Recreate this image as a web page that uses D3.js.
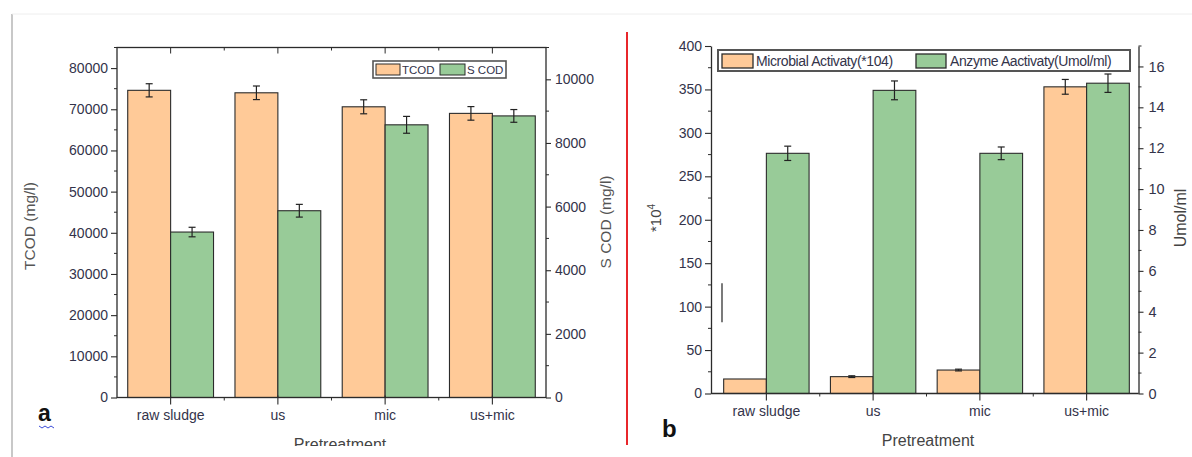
<!DOCTYPE html>
<html>
<head>
<meta charset="utf-8">
<script src="https://cdn.jsdelivr.net/npm/d3@7"></script>
<style>
  body { margin: 0; background: #fff; }
  svg { display: block; font-family: "Liberation Sans", Arial, sans-serif; }
  .tick text { fill: #33334a; }
</style>
</head>
<body>
<svg id="chart" width="1192" height="457"></svg>
<script>
  // categories and values
  const categories = ["raw sludge", "us", "mic", "us+mic"];

  const tcod = [74600, 74000, 70600, 69000];
  const tcodErr = [1600, 1650, 1700, 1650];
  const scod = [5200, 5870, 8570, 8850];
  const scodErr = [150, 200, 265, 200];

  const microbial = [16.7, 19.4, 27, 353];
  const microbialErr = [0, 1, 1, 8.5];
  const enzyme = [11.75, 14.83, 11.75, 15.18];
  const enzymeErr = [0.35, 0.46, 0.31, 0.45];

  const tcodTicks = [0, 10000, 20000, 30000, 40000, 50000, 60000, 70000, 80000];
  const scodTicks = [0, 2000, 4000, 6000, 8000, 10000];
  const microbialTicks = [0, 50, 100, 150, 200, 250, 300, 350, 400];
  const enzymeTicks = [0, 2, 4, 6, 8, 10, 12, 14, 16];

  const orange = "#ffca98";
  const green = "#98cb98";
  const ink = "#2b2b2b";
  const plain = d3.format("d");

  const svg = d3.select("#chart");

  // page frame bits (screenshot edges and the red divider)
  svg.append("line").attr("x1", 12).attr("x2", 12).attr("y1", 14).attr("y2", 457)
    .attr("stroke", "#c8c8c8").attr("stroke-width", 2);
  svg.append("line").attr("x1", 12).attr("x2", 1192).attr("y1", 14).attr("y2", 14)
    .attr("stroke", "#eeeeee").attr("stroke-width", 1);
  svg.append("line").attr("x1", 627).attr("x2", 627).attr("y1", 32).attr("y2", 445)
    .attr("stroke", "#e8262b").attr("stroke-width", 2);

  function minorAxis(g, scale, values, size, orient) {
    g.append("g").selectAll("line").data(values).join("line")
      .attr("stroke", ink).attr("stroke-width", 1)
      .attr(orient === "h" ? "y1" : "x1", d => scale(d))
      .attr(orient === "h" ? "y2" : "x2", d => scale(d))
      .attr(orient === "h" ? "x1" : "y1", 0)
      .attr(orient === "h" ? "x2" : "y2", size);
  }

  function styleAxis(g, fontSize) {
    g.selectAll(".domain").attr("stroke", ink).attr("stroke-width", 1.3);
    g.selectAll(".tick line").attr("stroke", ink).attr("stroke-width", 1.1);
    g.selectAll(".tick text").style("font-size", fontSize + "px");
  }

  function errorBars(g, xs, vals, errs, scale, cap) {
    const eb = g.append("g").attr("stroke", "#222").attr("stroke-width", 1.2);
    vals.forEach((v, i) => {
      if (!errs[i]) return;
      const x = xs[i];
      const top = scale(v + errs[i]);
      const bot = scale(v - errs[i]);
      eb.append("line").attr("x1", x).attr("x2", x).attr("y1", top).attr("y2", bot);
      eb.append("line").attr("x1", x - cap).attr("x2", x + cap).attr("y1", top).attr("y2", top);
      eb.append("line").attr("x1", x - cap).attr("x2", x + cap).attr("y1", bot).attr("y2", bot);
    });
  }

  // ---------- chart a ----------
  const aLeft = 117, aRight = 546, aTop = 47.5, aBottom = 397.5;
  const xa = d3.scaleBand().domain(categories).range([aLeft, aRight])
    .paddingInner(0.2).paddingOuter(0.1);
  const ya = d3.scaleLinear().domain([0, 85000]).range([aBottom, aTop]);
  const ya2 = d3.scaleLinear().domain([0, 11000]).range([aBottom, aTop]);
  const barA = xa.bandwidth() / 2;

  const ga = svg.append("g");

  ga.append("g").selectAll("rect").data(categories).join("rect")
    .attr("x", d => xa(d)).attr("width", barA)
    .attr("y", (d, i) => ya(tcod[i])).attr("height", (d, i) => aBottom - ya(tcod[i]))
    .attr("fill", orange).attr("stroke", ink).attr("stroke-width", 1.1);
  ga.append("g").selectAll("rect").data(categories).join("rect")
    .attr("x", d => xa(d) + barA).attr("width", barA)
    .attr("y", (d, i) => ya2(scod[i])).attr("height", (d, i) => aBottom - ya2(scod[i]))
    .attr("fill", green).attr("stroke", ink).attr("stroke-width", 1.1);

  errorBars(ga, categories.map(d => xa(d) + barA / 2), tcod, tcodErr, ya, 3.5);
  errorBars(ga, categories.map(d => xa(d) + barA * 1.5), scod, scodErr, ya2, 3.5);

  // frame
  ga.append("rect").attr("x", aLeft).attr("y", aTop)
    .attr("width", aRight - aLeft).attr("height", aBottom - aTop)
    .attr("fill", "none").attr("stroke", ink).attr("stroke-width", 1.3);

  const aLeftAxis = ga.append("g").attr("transform", `translate(${aLeft},0)`)
    .call(d3.axisLeft(ya).tickValues(tcodTicks).tickFormat(plain)
      .tickSize(6).tickPadding(3).tickSizeOuter(0));
  aLeftAxis.select(".domain").remove();
  styleAxis(aLeftAxis, 14);
  minorAxis(aLeftAxis, ya, d3.range(5000, 85001, 10000), -3, "h");

  const aRightAxis = ga.append("g").attr("transform", `translate(${aRight},0)`)
    .call(d3.axisRight(ya2).tickValues(scodTicks).tickFormat(plain)
      .tickSize(5).tickPadding(4).tickSizeOuter(0));
  aRightAxis.select(".domain").remove();
  styleAxis(aRightAxis, 14);
  minorAxis(aRightAxis, ya2, d3.range(1000, 11001, 2000), 3, "h");

  const centersA = categories.map(d => xa(d) + xa.bandwidth() / 2);
  const betweenA = centersA.slice(0, -1).map((c, i) => (c + centersA[i + 1]) / 2);

  const aBottomAxis = ga.append("g").attr("transform", `translate(0,${aBottom})`)
    .call(d3.axisBottom(xa).tickSize(7).tickPadding(6).tickSizeOuter(0));
  aBottomAxis.select(".domain").remove();
  styleAxis(aBottomAxis, 14);
  aBottomAxis.selectAll(".tick line").attr("y1", -2);
  minorAxis(aBottomAxis, d => d, betweenA, 3, "v");

  const aTopAxis = ga.append("g").attr("transform", `translate(0,${aTop})`);
  minorAxis(aTopAxis, d => d, centersA, 6, "v");
  minorAxis(aTopAxis, d => d, betweenA, 3, "v");

  ga.append("text").attr("transform", "translate(35,226) rotate(-90)")
    .attr("text-anchor", "middle").attr("fill", "#555").style("font-size", "15.5px")
    .text("TCOD (mg/l)");
  ga.append("text").attr("transform", "translate(611,222) rotate(-90)")
    .attr("text-anchor", "middle").attr("fill", "#555").style("font-size", "15.5px")
    .text("S COD (mg/l)");

  // clipped x title (panel ends before the text finishes)
  svg.append("clipPath").attr("id", "clipA").append("rect")
    .attr("x", 0).attr("y", 0).attr("width", 620).attr("height", 446);
  ga.append("text").attr("clip-path", "url(#clipA)")
    .attr("x", 340).attr("y", 450).attr("text-anchor", "middle")
    .attr("fill", "#444").style("font-size", "16px").text("Pretreatment");

  ga.append("text").attr("x", 38).attr("y", 421).attr("fill", "#111")
    .style("font-size", "23px").style("font-weight", "bold").text("a");
  ga.append("path").attr("fill", "none").attr("stroke", "#3b4bd8").attr("stroke-width", 1)
    .attr("d", d3.range(0, 6).map(k => `${k === 0 ? "M" : "L"}${39 + k * 3},${k % 2 ? 428 : 426}`).join(""));

  // legend a
  const legA = ga.append("g").attr("transform", "translate(373,61)");
  legA.append("rect").attr("width", 133).attr("height", 17)
    .attr("fill", "#fff").attr("stroke", "#555").attr("stroke-width", 1.6);
  legA.append("rect").attr("x", 3).attr("y", 3).attr("width", 24).attr("height", 11)
    .attr("fill", orange).attr("stroke", ink);
  legA.append("text").attr("x", 29).attr("y", 13).style("font-size", "11.5px")
    .attr("fill", "#33334a").text("TCOD");
  legA.append("rect").attr("x", 67).attr("y", 3).attr("width", 25).attr("height", 11)
    .attr("fill", green).attr("stroke", ink);
  legA.append("text").attr("x", 94).attr("y", 13).style("font-size", "11.5px")
    .attr("fill", "#33334a").text("S COD");

  // ---------- chart b ----------
  const bLeft = 711, bRight = 1138.5, bTop = 46, bBottom = 393.5;
  const xb = d3.scaleBand().domain(categories).range([713, 1140])
    .paddingInner(0.2).paddingOuter(0.1);
  const yb = d3.scaleLinear().domain([0, 400]).range([bBottom, bTop]);
  const yb2 = d3.scaleLinear().domain([0, 17]).range([bBottom, bTop]);
  const barB = xb.bandwidth() / 2;

  const gb = svg.append("g");

  gb.append("g").selectAll("rect").data(categories).join("rect")
    .attr("x", d => xb(d)).attr("width", barB)
    .attr("y", (d, i) => yb(microbial[i])).attr("height", (d, i) => bBottom - yb(microbial[i]))
    .attr("fill", orange).attr("stroke", ink).attr("stroke-width", 1.1);
  gb.append("g").selectAll("rect").data(categories).join("rect")
    .attr("x", d => xb(d) + barB).attr("width", barB)
    .attr("y", (d, i) => yb2(enzyme[i])).attr("height", (d, i) => bBottom - yb2(enzyme[i]))
    .attr("fill", green).attr("stroke", ink).attr("stroke-width", 1.1);

  errorBars(gb, categories.map(d => xb(d) + barB / 2), microbial, microbialErr, yb, 3.5);
  errorBars(gb, categories.map(d => xb(d) + barB * 1.5), enzyme, enzymeErr, yb2, 3.5);

  // stray mark left in the figure
  gb.append("line").attr("x1", 722).attr("x2", 722).attr("y1", yb(127)).attr("y2", yb(82))
    .attr("stroke", "#333").attr("stroke-width", 1.3);

  const bLeftAxis = gb.append("g").attr("transform", `translate(${bLeft},0)`)
    .call(d3.axisLeft(yb).tickValues(microbialTicks).tickFormat(plain)
      .tickSize(6).tickPadding(3).tickSizeOuter(0));
  styleAxis(bLeftAxis, 14);
  minorAxis(bLeftAxis, yb, d3.range(25, 400, 50), -3, "h");

  const bRightAxis = gb.append("g").attr("transform", `translate(${bRight},0)`)
    .call(d3.axisRight(yb2).tickValues(enzymeTicks).tickFormat(plain)
      .tickSize(5).tickPadding(5).tickSizeOuter(0));
  styleAxis(bRightAxis, 14.5);
  minorAxis(bRightAxis, yb2, d3.range(1, 18, 2), 3, "h");

  const centersB = categories.map(d => xb(d) + xb.bandwidth() / 2);
  const betweenB = centersB.slice(0, -1).map((c, i) => (c + centersB[i + 1]) / 2);

  const bBottomAxis = gb.append("g").attr("transform", `translate(0,${bBottom})`)
    .call(d3.axisBottom(xb).tickSize(7).tickPadding(6).tickSizeOuter(0));
  bBottomAxis.select(".domain").attr("d", `M${bLeft},0H${bRight}`);
  styleAxis(bBottomAxis, 14);
  bBottomAxis.selectAll(".tick line").attr("y1", -2);
  minorAxis(bBottomAxis, d => d, betweenB, 3, "v");

  const yTitleB = gb.append("text").attr("transform", "translate(661,218) rotate(-90)")
    .attr("text-anchor", "middle").attr("fill", "#444").style("font-size", "15px");
  yTitleB.append("tspan").text("*10");
  yTitleB.append("tspan").attr("dy", -6).style("font-size", "10px").text("4");

  gb.append("text").attr("transform", "translate(1186,218) rotate(-90)")
    .attr("text-anchor", "middle").attr("fill", "#444").style("font-size", "16px")
    .text("Umol/ml");
  gb.append("text").attr("x", 928).attr("y", 446).attr("text-anchor", "middle")
    .attr("fill", "#444").style("font-size", "16px").text("Pretreatment");
  gb.append("text").attr("x", 662).attr("y", 437).attr("fill", "#111")
    .style("font-size", "24px").style("font-weight", "bold").text("b");

  // legend b
  const legB = gb.append("g").attr("transform", "translate(718,50)");
  legB.append("rect").attr("width", 412).attr("height", 21)
    .attr("fill", "#fff").attr("stroke", "#555").attr("stroke-width", 2);
  legB.append("rect").attr("x", 4).attr("y", 4).attr("width", 31).attr("height", 14)
    .attr("fill", orange).attr("stroke", ink).attr("stroke-width", 1.3);
  legB.append("text").attr("x", 38).attr("y", 16).style("font-size", "14px")
    .style("letter-spacing", "-0.4px").attr("fill", "#33334a").text("Microbial Activaty(*104)");
  legB.append("rect").attr("x", 198).attr("y", 4).attr("width", 30).attr("height", 14)
    .attr("fill", green).attr("stroke", ink).attr("stroke-width", 1.3);
  legB.append("text").attr("x", 232).attr("y", 16).style("font-size", "14px")
    .style("letter-spacing", "-0.4px").attr("fill", "#33334a").text("Anzyme Aactivaty(Umol/ml)");
</script>
</body>
</html>
